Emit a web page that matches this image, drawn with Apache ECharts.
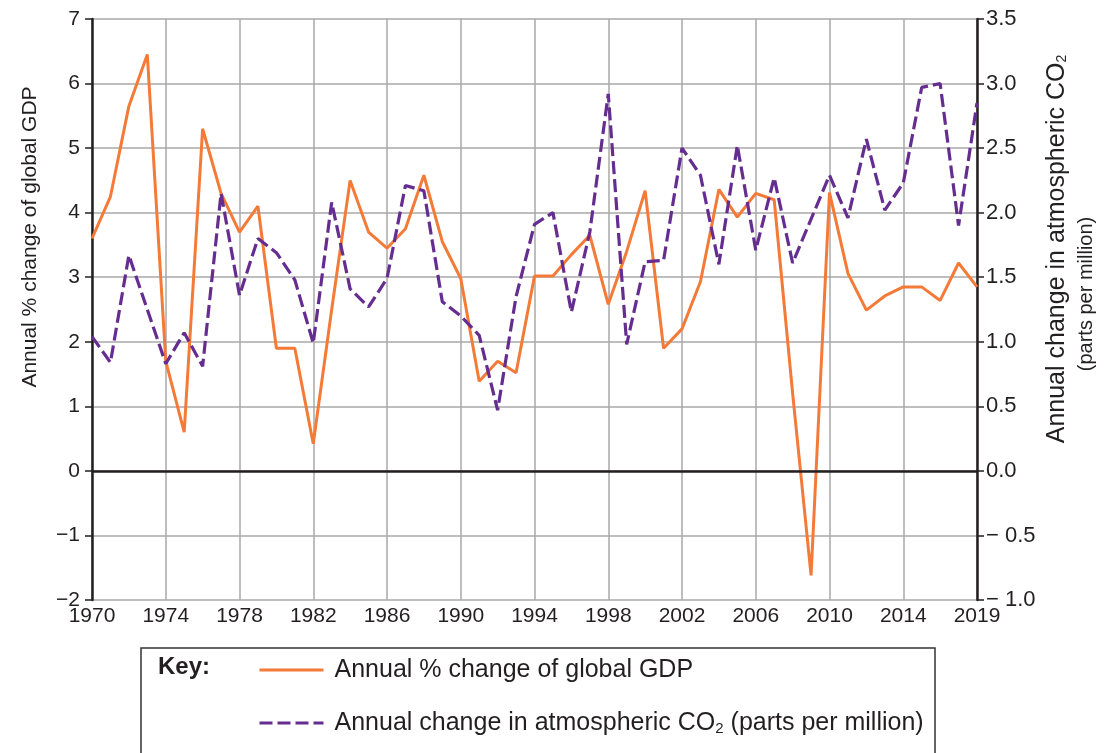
<!DOCTYPE html>
<html>
<head>
<meta charset="utf-8">
<title>GDP and CO2</title>
<script src="https://cdn.jsdelivr.net/npm/echarts@6/dist/echarts.min.js"></script>
<style>
  html, body { margin: 0; padding: 0; background: #fff; }
  #chart { width: 1104px; height: 753px; }
</style>
</head>
<body>
<div id="chart"></div>
<script>
  // years on the x axis (the last tick is printed as 2019 in the source)
  var years = []
  for (var y = 1970; y <= 2018; y++) years.push(y)
  var xTickLabels = ['1970', '1974', '1978', '1982', '1986', '1990', '1994', '1998', '2002', '2006', '2010', '2014', '2019']

  // annual % change of global GDP
  var gdpChange = [
    3.6, 4.25, 5.65, 6.45, 1.7, 0.6, 5.3, 4.3, 3.7, 4.1,
    1.9, 1.9, 0.42, 2.5, 4.5, 3.7, 3.45, 3.75, 4.58, 3.55,
    2.98, 1.39, 1.7, 1.52, 3.02, 3.02, 3.35, 3.65, 2.58, 3.4,
    4.34, 1.9, 2.2, 2.93, 4.36, 3.93, 4.3, 4.2, 1.2, -1.62,
    4.31, 3.06, 2.49, 2.71, 2.85, 2.85, 2.64, 3.22, 2.85
  ]
  // annual change in atmospheric CO2 (ppm)
  var co2Change = [
    1.04, 0.84, 1.67, 1.25, 0.83, 1.07, 0.81, 2.15, 1.36, 1.80,
    1.69, 1.48, 0.99, 2.08, 1.41, 1.27, 1.49, 2.21, 2.17, 1.31,
    1.20, 1.05, 0.47, 1.35, 1.91, 2.00, 1.23, 1.85, 2.92, 0.98,
    1.62, 1.63, 2.50, 2.29, 1.60, 2.52, 1.71, 2.27, 1.61, 1.95,
    2.29, 1.96, 2.57, 2.02, 2.23, 2.97, 3.00, 1.90, 2.85
  ]

  var gdpName = 'Annual % change of global GDP'
  var co2Name = 'Annual change in atmospheric CO2 (parts per million)'

  var ORANGE = '#f47a38'
  var PURPLE = '#652d90'
  var GRID = '#a9a9a9'
  var INK = '#231f20'
  var FONT = '"Liberation Sans", Arial, sans-serif'

  function minus (s) {
    return String(s).replace('-', '\u2212')
  }

  var chart = echarts.init(document.getElementById('chart'), null, {renderer: 'canvas'})

  var option = {
    animation: false,
    backgroundColor: '#fff',
    textStyle: {fontFamily: FONT, color: INK},
    grid: {left: 92, right: 127, top: 19, bottom: 153},
    xAxis: {
      type: 'value',
      min: 1970,
      max: 2018,
      interval: 4,
      axisLine: {show: false},
      axisTick: {show: false},
      splitLine: {show: true, lineStyle: {color: GRID, width: 1.5}},
      axisLabel: {
        margin: 6,
        fontSize: 21,
        color: INK,
        fontFamily: FONT,
        formatter: function (v, i) { return xTickLabels[i] }
      }
    },
    yAxis: [
      {
        type: 'value',
        min: -2,
        max: 7,
        interval: 1,
        axisLine: {show: true, lineStyle: {color: INK, width: 2.5}},
        axisTick: {show: true, length: 7, lineStyle: {color: INK, width: 1.5}},
        splitLine: {show: true, lineStyle: {color: GRID, width: 1.5}},
        axisLabel: {
          margin: 12,
          fontSize: 21,
          color: INK,
          fontFamily: FONT,
          formatter: function (v) { return minus(v) }
        }
      },
      {
        type: 'value',
        min: -1,
        max: 3.5,
        interval: 0.5,
        position: 'right',
        axisLine: {show: true, lineStyle: {color: INK, width: 2.5}},
        axisTick: {show: true, length: 7, lineStyle: {color: INK, width: 1.5}},
        splitLine: {show: false},
        axisLabel: {
          margin: 9,
          fontSize: 22,
          color: INK,
          fontFamily: FONT,
          formatter: function (v) {
            var s = v.toFixed(1)
            return s.charAt(0) === '-' ? '\u2212 ' + s.slice(1) : s
          }
        }
      }
    ],
    legend: {
      orient: 'vertical',
      left: 258,
      top: 657,
      padding: 0,
      itemWidth: 64,
      itemHeight: 14,
      itemGap: 26,
      itemStyle: {opacity: 0},
      lineStyle: {width: 3},
      data: [gdpName, co2Name],
      textStyle: {
        fontSize: 25,
        lineHeight: 26,
        color: INK,
        fontFamily: FONT,
        padding: [0, 0, 0, 6],
        rich: {
          t: {fontSize: 25, lineHeight: 26, color: INK, fontFamily: FONT},
          sub: {fontSize: 15, lineHeight: 26, color: INK, fontFamily: FONT, verticalAlign: 'bottom', padding: [12, 0, 0, 0]}
        }
      },
      formatter: function (name) {
        if (name === co2Name) {
          return '{t|Annual change in atmospheric CO}{sub|2}{t| (parts per million)}'
        }
        return name
      }
    },
    graphic: [
      {
        type: 'rect',
        shape: {x: 141, y: 648, width: 794, height: 130},
        style: {fill: 'none', stroke: '#333', lineWidth: 1.5},
        silent: true
      },
      {
        type: 'text',
        x: 158,
        y: 667,
        style: {text: 'Key:', font: 'bold 24px ' + FONT, fill: INK, verticalAlign: 'middle'},
        silent: true
      },
      {
        type: 'text',
        x: 30,
        y: 237,
        rotation: Math.PI / 2,
        style: {text: gdpName, font: '21px ' + FONT, fill: INK, align: 'center', verticalAlign: 'middle'},
        silent: true
      },
      {
        type: 'text',
        x: 1057,
        y: 249,
        rotation: Math.PI / 2,
        style: {
          text: '{t|Annual change in atmospheric CO}{sub|2}',
          align: 'center',
          verticalAlign: 'middle',
          rich: {
            t: {font: '25px ' + FONT, fill: INK},
            sub: {font: '14px ' + FONT, fill: INK, verticalAlign: 'bottom', padding: [11, 0, 0, 0]}
          }
        },
        silent: true
      },
      {
        type: 'text',
        x: 1086,
        y: 294,
        rotation: Math.PI / 2,
        style: {text: '(parts per million)', font: '20px ' + FONT, fill: INK, align: 'center', verticalAlign: 'middle'},
        silent: true
      }
    ],
    series: [
      {
        name: gdpName,
        type: 'line',
        yAxisIndex: 0,
        symbol: 'none',
        z: 3,
        lineStyle: {color: ORANGE, width: 3},
        itemStyle: {color: ORANGE},
        data: years.map(function (yr, i) { return [yr, gdpChange[i]] }),
        markLine: {
          silent: true,
          symbol: 'none',
          label: {show: false},
          lineStyle: {color: INK, width: 2.5, type: 'solid'},
          data: [{yAxis: 0}]
        }
      },
      {
        name: co2Name,
        type: 'line',
        yAxisIndex: 1,
        symbol: 'none',
        z: 4,
        lineStyle: {color: PURPLE, width: 3.2, type: [13, 5]},
        itemStyle: {color: PURPLE},
        data: years.map(function (yr, i) { return [yr, co2Change[i]] })
      }
    ]
  }

  chart.setOption(option)
  window.addEventListener('resize', function () {
    chart.resize()
  })
</script>
</body>
</html>
